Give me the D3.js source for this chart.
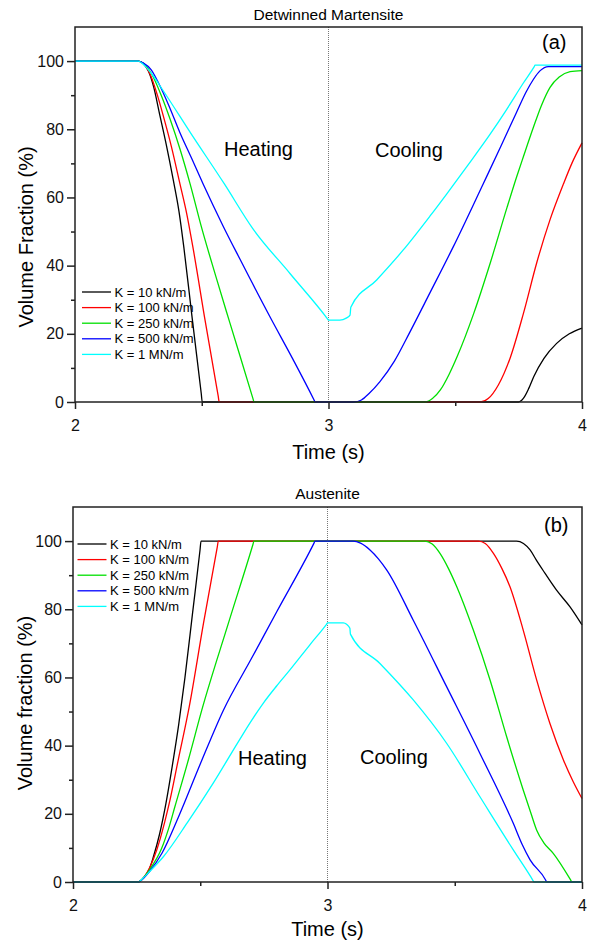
<!DOCTYPE html>
<html>
<head>
<meta charset="utf-8">
<script src="https://cdn.jsdelivr.net/npm/d3@7"></script>
<style>
  body { margin: 0; background: #fff; }
  svg { font-family: "Liberation Sans", Arial, sans-serif; }
</style>
</head>
<body>
<div id="chart"></div>
<script>

// legend labels and line colours (same for both panels)
const legendLabels = ['K = 10 kN/m', 'K = 100 kN/m', 'K = 250 kN/m', 'K = 500 kN/m', 'K = 1 MN/m'];
const seriesColors = ['#000000', '#ff0000', '#00e000', '#0000ff', '#00ffff'];

const xTicks = [2, 3, 4];
const xMinorTicks = [2.5, 3.5];
const yTicks = [0, 20, 40, 60, 80, 100];
const yMinorTicks = [10, 30, 50, 70, 90];

// panel (a) detwinned martensite, [time s, volume fraction %]
const martK10 = [[2,100],[2.25,100],[2.27,99.3],[2.29,97],[2.31,92.5],[2.335,84],[2.36,75.5],[2.388,65],[2.41,56],[2.43,45],[2.46,26],[2.498,2.5],[2.502,0],
  [3.75,0],[3.77,1.2],[3.79,4],[3.81,7.5],[3.85,12.8],[3.9,17.2],[3.95,20],[4.0,21.7]];
const martK100 = [[2,100],[2.25,100],[2.27,99.2],[2.30,95.5],[2.325,90],[2.348,84],[2.38,75],[2.414,64],[2.44,55.5],[2.467,44.6],[2.513,24],[2.565,1.7],[2.569,0],
  [3.60,0],[3.63,1],[3.67,5],[3.717,13],[3.769,26],[3.822,41],[3.874,53.5],[3.927,64],[3.96,70],[4.0,76]];
const martK250 = [[2,100],[2.25,100],[2.27,99.3],[2.30,96.5],[2.34,90],[2.375,83],[2.415,74],[2.454,64],[2.50,51],[2.555,37],[2.611,23.2],[2.702,1],[2.706,0],
  [3.383,0],[3.41,1],[3.442,3.6],[3.475,8],[3.508,13.4],[3.573,26],[3.639,41],[3.704,57],[3.742,66],[3.769,72],[3.808,80.5],[3.84,87],[3.874,92.3],[3.91,95.3],[3.953,96.9],[4.0,97.2]];
const martK500 = [[2,100],[2.25,100],[2.27,99.4],[2.30,97.5],[2.33,93.5],[2.37,87],[2.414,79],[2.46,71.5],[2.505,64],[2.585,51.5],[2.65,42],[2.769,25],[2.86,12.5],[2.943,0.6],[2.947,0],
  [3.10,0],[3.13,0.6],[3.16,2.5],[3.203,6],[3.26,12],[3.321,20.5],[3.40,32],[3.492,45.5],[3.611,64.1],[3.68,75],[3.742,85],[3.78,91],[3.808,94.6],[3.835,97.2],[3.867,98.4],[4.0,98.4]];
const martK1M = [[2,100],[2.25,100],[2.27,99],[2.30,96.5],[2.348,91.3],[2.457,78.8],[2.588,64.1],[2.70,51],[2.848,37.7],[2.996,24.4],[3.0,24],
  [3.045,24],[3.07,24.6],[3.085,25.5],[3.088,27.8],[3.19,35.8],[3.295,44.6],[3.40,54.5],[3.466,61],[3.55,69.5],[3.637,78.5],[3.70,85.5],[3.768,93.5],[3.811,98.3],[3.815,98.8],[4.0,98.8]];

// panel (b) austenite
const austK10 = [[2,0],[2.255,0],[2.28,1.5],[2.30,3.8],[2.316,7.4],[2.34,14],[2.365,23],[2.39,34],[2.415,46],[2.44,60],[2.47,79],[2.499,97.3],[2.503,100],
  [3.743,100],[3.77,99.3],[3.796,97.4],[3.82,94.5],[3.848,91.3],[3.90,85.6],[3.953,80.7],[4.0,75.4]];
const austK100 = [[2,0],[2.255,0],[2.28,1.5],[2.30,4],[2.329,9.4],[2.36,17.5],[2.381,24],[2.414,36],[2.457,51.5],[2.513,76],[2.567,98.3],[2.571,100],
  [3.593,100],[3.62,99.3],[3.652,96.4],[3.685,92],[3.717,86.6],[3.769,73.9],[3.822,59.2],[3.874,46.5],[3.927,35.8],[3.965,29.5],[4.0,24.5]];
const austK250 = [[2,0],[2.255,0],[2.28,1.5],[2.30,3.5],[2.348,9.8],[2.375,15.5],[2.40,22],[2.454,36],[2.506,50.4],[2.611,76],[2.707,99],[2.711,100],
  [3.383,100],[3.41,99.2],[3.442,96.4],[3.475,92],[3.508,86.6],[3.573,73.9],[3.639,59.2],[3.704,42.6],[3.769,27],[3.80,20],[3.822,15.2],[3.85,11.5],[3.887,8.4],[3.956,0.5],[3.96,0],[4.0,0]];
const austK500 = [[2,0],[2.255,0],[2.28,1.3],[2.30,3],[2.35,8.5],[2.414,19],[2.505,35.5],[2.591,50.4],[2.70,65.4],[2.80,79.2],[2.947,99.4],[2.951,100],
  [3.101,100],[3.13,99.4],[3.167,97.4],[3.20,94.8],[3.233,91.5],[3.337,76.8],[3.468,57.3],[3.599,37.7],[3.73,17.2],[3.765,11],[3.796,6.5],[3.857,0.6],[3.861,0],[4.0,0]];
const austK1M = [[2,0],[2.255,0],[2.28,1.5],[2.30,3],[2.355,7.4],[2.45,17.5],[2.551,29],[2.65,41.2],[2.70,47.2],[2.748,52.5],[2.80,57.5],[2.85,62],[2.93,69.5],[2.996,75.6],[3.0,76],
  [3.062,76],[3.075,75.6],[3.088,74.4],[3.09,72.7],[3.206,64.1],[3.337,53.4],[3.468,40.7],[3.599,25],[3.73,9.4],[3.807,0.5],[3.811,0],[4.0,0]];


const svg = d3.select('#chart')
  .append('svg')
    .attr('width', 589)
    .attr('height', 947);

function drawPanel(p) {
  const x = d3.scaleLinear().domain([2, 4]).range([p.left, p.right]);
  const y = d3.scaleLinear().domain([0, 110]).range([p.bottom, p.top]);

  const g = svg.append('g');

  // dotted line at t = 3 s (heating / cooling switch)
  g.append('line')
    .attr('x1', x(3)).attr('x2', x(3))
    .attr('y1', y(110)).attr('y2', y(0))
    .style('stroke', '#777')
    .style('stroke-width', 1)
    .style('stroke-dasharray', '1,1');

  const line = d3.line()
    .curve(d3.curveMonotoneX)
    .x(d => x(d[0]))
    .y(d => y(d[1]));

  p.series.forEach(function(s, i) {
    g.append('path')
      .datum(s)
      .attr('d', line)
      .style('fill', 'none')
      .style('stroke', seriesColors[i])
      .style('stroke-width', 1.3)
      .style('stroke-linejoin', 'round');
  });

  // frame
  g.append('rect')
    .attr('x', p.left).attr('y', p.top)
    .attr('width', p.right - p.left).attr('height', p.bottom - p.top)
    .style('fill', 'none')
    .style('stroke', '#222')
    .style('stroke-width', 1.5);

  // X axis, major + minor
  g.append('g')
    .attr('transform', `translate(0, ${p.bottom})`)
    .call(d3.axisBottom(x).tickValues(xTicks).tickSize(7).tickSizeOuter(0).tickPadding(11).tickFormat(d3.format('d')));
  g.append('g')
    .attr('transform', `translate(0, ${p.bottom})`)
    .call(d3.axisBottom(x).tickValues(xMinorTicks).tickSize(4).tickSizeOuter(0).tickFormat(''));

  // Y axis, major + minor
  g.append('g')
    .attr('transform', `translate(${p.left}, 0)`)
    .call(d3.axisLeft(y).tickValues(yTicks).tickSize(8).tickSizeOuter(0).tickPadding(3));
  g.append('g')
    .attr('transform', `translate(${p.left}, 0)`)
    .call(d3.axisLeft(y).tickValues(yMinorTicks).tickSize(4).tickSizeOuter(0).tickFormat(''));

  g.selectAll('.domain').remove();
  g.selectAll('.tick line').style('stroke', '#222').style('stroke-width', 1.5);
  g.selectAll('.tick text').style('font-size', '16px').style('fill', '#111')
    .style('font-family', '"Liberation Sans", Arial, sans-serif');

  // titles and labels
  g.append('text')
    .attr('x', x(3)).attr('y', p.titleY)
    .attr('text-anchor', 'middle')
    .style('font-size', '15.5px')
    .text(p.title);

  g.append('text')
    .attr('transform', `translate(${p.yLabelX}, ${p.yLabelY}) rotate(-90)`)
    .attr('text-anchor', 'middle')
    .style('font-size', '20px')
    .text(p.yLabel);

  g.append('text')
    .attr('x', x(3)).attr('y', p.xLabelY)
    .attr('text-anchor', 'middle')
    .style('font-size', '20px')
    .text('Time (s)');

  g.append('text')
    .attr('x', p.heat[0]).attr('y', p.heat[1])
    .style('font-size', '20px')
    .text('Heating');

  g.append('text')
    .attr('x', p.cool[0]).attr('y', p.cool[1])
    .style('font-size', '20px')
    .text('Cooling');

  g.append('text')
    .attr('x', p.tag[0]).attr('y', p.tag[1])
    .style('font-size', '20px')
    .text(p.tagText);

  // legend
  const leg = g.append('g')
    .attr('transform', `translate(${p.legX}, ${p.legY})`);
  legendLabels.forEach(function(label, i) {
    leg.append('line')
      .attr('x1', 0).attr('x2', 29)
      .attr('y1', i * 15.6).attr('y2', i * 15.6)
      .style('stroke', seriesColors[i])
      .style('stroke-width', 1.3);
    leg.append('text')
      .attr('x', 32.5).attr('y', i * 15.6)
      .attr('dy', '0.35em')
      .style('font-size', '13px')
      .text(label);
  });
}

drawPanel({
  left: 75, right: 582, top: 27, bottom: 402,
  series: [martK10, martK100, martK250, martK500, martK1M],
  title: 'Detwinned Martensite', titleY: 20,
  yLabel: 'Volume Fraction (%)', yLabelX: 33, yLabelY: 237,
  xLabelY: 459,
  heat: [224, 156], cool: [375, 157],
  tag: [542, 49], tagText: '(a)',
  legX: 82, legY: 292
});

drawPanel({
  left: 73, right: 582, top: 507, bottom: 882,
  series: [austK10, austK100, austK250, austK500, austK1M],
  title: 'Austenite', titleY: 499,
  yLabel: 'Volume fraction (%)', yLabelX: 32, yLabelY: 703,
  xLabelY: 936,
  heat: [238, 765], cool: [360, 764],
  tag: [544, 532], tagText: '(b)',
  legX: 77.5, legY: 544
});

</script>
</body>
</html>
